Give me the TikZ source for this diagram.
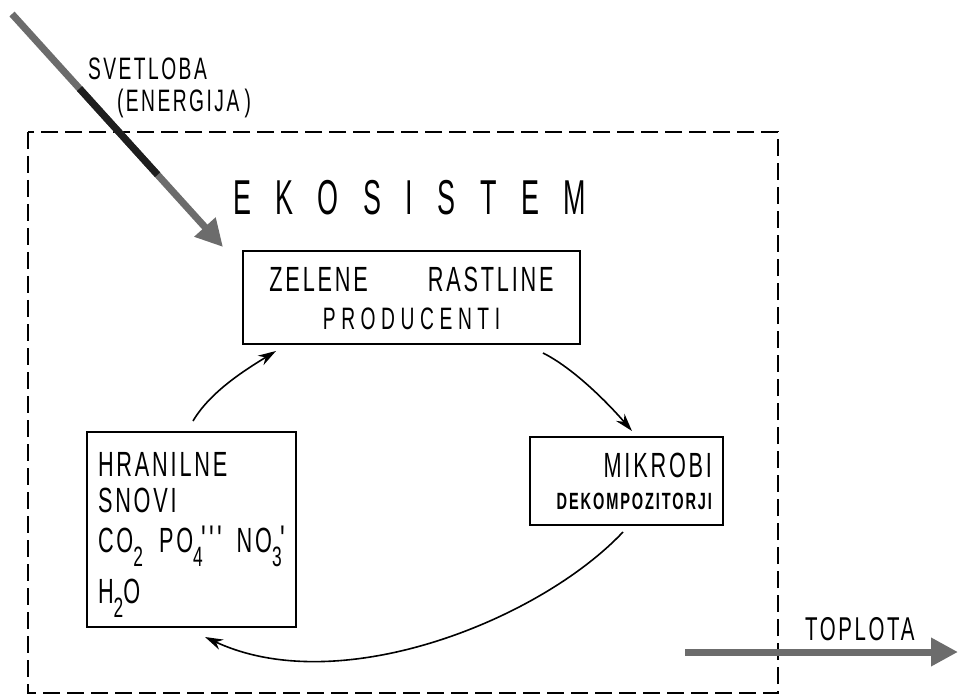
\documentclass[tikz,border=0pt]{standalone}
\usepackage{fontspec}
\setmainfont{Liberation Sans}[FakeStretch=0.62, LetterSpace=8]
\newfontfamily\ekofont{Liberation Sans}[FakeStretch=0.55, LetterSpace=50]
\newfontfamily\wideprod{Liberation Sans}[FakeStretch=0.62, LetterSpace=18]
\newfontfamily\tickfont{Liberation Sans}[FakeStretch=0.62, LetterSpace=4]
\usetikzlibrary{arrows.meta,calc}
\definecolor{arrowgray}{RGB}{108,108,108}
\definecolor{arrowdark}{RGB}{30,30,30}
\newcommand{\chsub}[1]{\raisebox{-14pt}{\fontsize{28}{28}\selectfont #1}}
\newcommand{\chsubsup}[2]{\raisebox{-14pt}{\fontsize{28}{28}\selectfont #1}\kern-1pt\raisebox{-1pt}{\tickfont\fontsize{40}{40}\selectfont #2}}
\begin{document}
\begin{tikzpicture}[x=1pt,y=-1pt,
  every node/.style={inner sep=0pt, outer sep=0pt},
  box/.style={draw, line width=1.6pt},
  frame/.style={line width=2pt, dash pattern=on 17pt off 7pt},
  flow/.style={line width=1.6pt, -{Stealth[length=18pt,width=11pt]}},
  energy/.style={line width=7pt, arrowgray, -{Triangle[length=27pt,width=27pt]}},
  lbl/.style={font=\fontsize{31}{31}\selectfont, anchor=base west}]
\useasboundingbox (0,0) rectangle (959,695);
\draw[frame] (28,132) rectangle (778,693);

% boxes
\node[box, minimum width=337pt, minimum height=93pt, anchor=north west] (prod) at (243,251) {};
\node[box, minimum width=209pt, minimum height=195pt, anchor=north west] (hran) at (87,432) {};
\node[box, minimum width=193pt, minimum height=88pt, anchor=north west] (mikr) at (530,437) {};

% box texts
\node[anchor=north, align=center, font={\fontsize{35}{38}\selectfont}] (prodtxt)
  at ([shift={(0,16)}]prod.north) {ZELENE\hspace{60pt}RASTLINE\\{\wideprod\fontsize{31}{38}\selectfont PRODUCENTI}};
\node[anchor=north west, align=left, font={\fontsize{35}{36}\selectfont\lineskiplimit=-100pt}] (hrantxt)
  at ([shift={(11,20)}]hran.north west)
  {HRANILNE\\SNOVI\\[4pt]CO\chsub{2}\hspace{16pt}PO\chsubsup{4}{\textquotesingle\textquotesingle\textquotesingle}\hspace{12pt}NO\chsubsup{3}{\textquotesingle}\\[15pt]H\chsub{2}O};
\node[anchor=north east, align=right, font={\fontsize{35}{32}\selectfont}] (mikrtxt)
  at ([shift={(-11,16)}]mikr.north east) {MIKROBI\\{\bfseries\fontsize{23.5}{32}\selectfont DEKOMPOZITORJI}};

% titles and labels
\node[anchor=base west, font={\ekofont\fontsize{49}{49}\selectfont}] (eko) at (233,215) {EKOSISTEM};
\node[lbl] (svet) at (88,80) {SVETLOBA};
\node[lbl] (energ) at (117,112) {(ENERGIJA\,)};
\node[lbl, font={\fontsize{33}{33}\selectfont}] (topl) at (805,640) {TOPLOTA};

% energy arrows
\coordinate (sunA) at (12,14);
\coordinate (sunB) at (223,247);
\draw[energy] (sunA) -- (sunB);
\draw[line width=7pt, arrowdark] ($(sunA)!0.32!(sunB)$) -- ($(sunA)!0.69!(sunB)$);
\coordinate (heatA) at (685,652);
\coordinate (heatB) at (958,652);
\draw[energy] (heatA) -- (heatB);

% nutrient cycle
\draw[flow] ([shift={(106,-11)}]hran.north west) .. controls +(17,-29) and +(-31,19) .. ([shift={(33,7)}]prod.south west);
\draw[flow] ([shift={(-37,9)}]prod.south east) .. controls +(30,15) and +(-25,-29) .. ([shift={(102,-6)}]mikr.north west);
\draw[flow] ([shift={(93,7)}]mikr.south west) .. controls +(-83,88) and +(135,63) .. ([shift={(118,10)}]hran.south west);
\end{tikzpicture}
\end{document}
